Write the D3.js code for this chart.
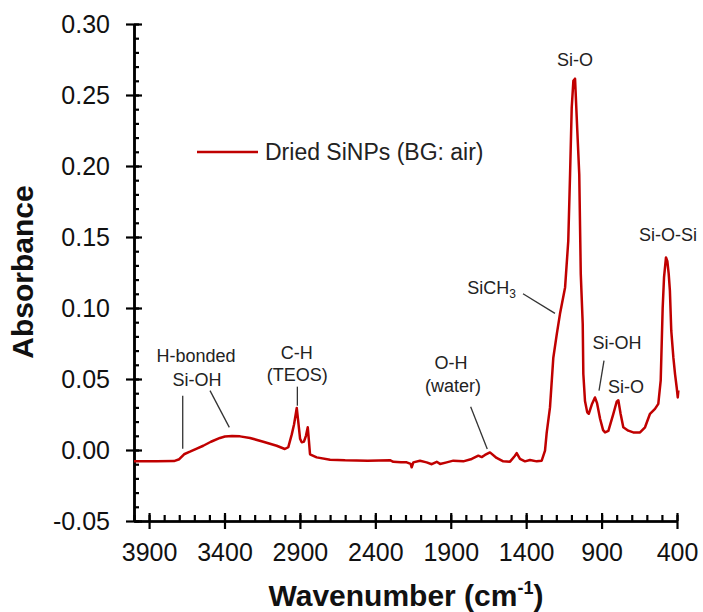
<!DOCTYPE html>
<html lang="en">
<head>
  <meta charset="UTF-8">
  <title>FTIR spectrum</title>
  <script src="https://cdnjs.cloudflare.com/ajax/libs/d3/7.8.5/d3.min.js"></script>
  <style>
    body { margin: 0; background: #fff; }
    svg text { font-family: Arial, "Liberation Sans", sans-serif; }
  </style>
</head>
<body>
<div id="app"></div>
<script>
  // spectrum (cm-1, absorbance)
  const wavenumber = [4000, 3850, 3735, 3700, 3668, 3629, 3580, 3541, 3490, 3430, 3397, 3350, 3297, 3231,
    3143, 3054, 3000, 2977, 2954, 2939, 2921, 2911, 2899, 2888, 2873, 2860, 2848, 2840, 2833, 2789,
    2700, 2600, 2450, 2303, 2281, 2230, 2192, 2166, 2159, 2148, 2104, 2060, 2026, 1993, 1971, 1927,
    1883, 1817, 1761, 1717, 1695, 1673, 1640, 1596, 1552, 1507, 1474, 1463, 1441, 1408, 1375, 1330,
    1297, 1275, 1264, 1242, 1220, 1197, 1176, 1142, 1121, 1109, 1098, 1087, 1076, 1061, 1048, 1038,
    1025, 1021, 1010, 995, 985, 965, 944, 930, 910, 890, 877, 855, 822, 800, 789, 774, 756, 723,
    690, 645, 612, 579, 546, 524, 508, 495, 486, 473, 464, 455, 447, 438, 424, 413, 402, 395, 391];
  const absorbance = [-0.008, -0.008, -0.0078, -0.0065, -0.003, -0.0012, 0.0012, 0.003, 0.0058, 0.0085, 0.0095, 0.0098, 0.0096, 0.0085,
    0.0058, 0.003, 0.0007, 0.002, 0.011, 0.018, 0.0296, 0.02, 0.008, 0.0054, 0.006, 0.010, 0.016, 0.006, -0.003, -0.0052,
    -0.0068, -0.0073, -0.0075, -0.0072, -0.0083, -0.0087, -0.0087, -0.0098, -0.0122, -0.0087, -0.0076, -0.0087, -0.010, -0.0083, -0.0098, -0.0087,
    -0.0075, -0.008, -0.0063, -0.004, -0.005, -0.0035, -0.0017, -0.0056, -0.008, -0.0082, -0.004, -0.0022, -0.0063, -0.008, -0.007, -0.008,
    -0.0075, -0.0005, 0.012, 0.030, 0.065, 0.0816, 0.0957, 0.1145, 0.147, 0.194, 0.241, 0.260, 0.2615, 0.225, 0.194, 0.124,
    0.0887, 0.0535, 0.0345, 0.0265, 0.0255, 0.032, 0.037, 0.033, 0.022, 0.014, 0.0124, 0.0135, 0.0255, 0.034, 0.035, 0.0255, 0.016, 0.0136,
    0.0124, 0.0124, 0.016, 0.0255, 0.029, 0.0325, 0.049, 0.100, 0.1215, 0.1356, 0.133, 0.124, 0.112, 0.084, 0.065, 0.0535, 0.044, 0.037, 0.042];

  const xMajor = [3900, 3400, 2900, 2400, 1900, 1400, 900, 400];
  const xMinor = d3.range(4000, 399, -100);
  const yMajor = [-0.05, 0, 0.05, 0.10, 0.15, 0.20, 0.25, 0.30];
  const yMinor = d3.range(-0.05, 0.3001, 0.01);
  const seriesName = 'Dried SiNPs (BG: air)';

  // peak labels: text lines, anchor point in data units
  const labels = [
    { text: 'H-bonded', w: 3589, a: 0.0617 },
    { text: 'Si-OH', w: 3582, a: 0.0453 },
    { text: 'C-H', w: 2921, a: 0.0643 },
    { text: '(TEOS)', w: 2918, a: 0.0488 },
    { text: 'O-H', w: 1898, a: 0.0573 },
    { text: '(water)', w: 1885, a: 0.0406 },
    { text: 'Si-O', w: 1076, a: 0.2706 },
    { text: 'Si-O-Si', w: 460, a: 0.1474 },
    { text: 'Si-OH', w: 798, a: 0.0713 },
    { text: 'Si-O', w: 738, a: 0.0399 }
  ];
  const leaders = [
    [3677, 0.0382, 3677, 0.0009],
    [3496, 0.0418, 3368, 0.0159],
    [2917, 0.0446, 2917, 0.0312],
    [1768, 0.0305, 1658, 0.0007],
    [884, 0.0629, 917, 0.0418],
    [1421, 0.110, 1209, 0.0962]
  ];

  const W = 703, H = 612;
  const margin = { left: 134, top: 24, right: 26, bottom: 91 };
  const red = '#c00000';

  const svg = d3.select('#app').append('svg')
    .attr('width', W)
    .attr('height', H);

  const x = d3.scaleLinear().domain([4000, 400]).range([margin.left, W - margin.right]);
  const y = d3.scaleLinear().domain([-0.05, 0.30]).range([H - margin.bottom, margin.top]);
  const x0 = H - margin.bottom;

  // x axis
  svg.append('g')
    .attr('transform', `translate(0, ${x0})`)
    .call(d3.axisBottom(x).tickValues(xMajor).tickSize(8).tickSizeOuter(0).tickPadding(14).tickFormat(d => String(d)))
    .call(g => g.selectAll('text').attr('font-size', 25).attr('fill', '#111'));
  svg.append('g')
    .attr('transform', `translate(0, ${x0})`)
    .call(d3.axisTop(x).tickValues(xMinor).tickSize(6).tickSizeOuter(0).tickFormat(''));
  svg.append('g')
    .attr('transform', `translate(0, ${x0})`)
    .call(d3.axisTop(x).tickValues(xMajor).tickSize(8).tickSizeOuter(0).tickFormat(''));

  // y axis
  svg.append('g')
    .attr('transform', `translate(${margin.left}, 0)`)
    .call(d3.axisLeft(y).tickValues(yMajor).tickSize(8).tickSizeOuter(0).tickPadding(16).tickFormat(d => d.toFixed(2)))
    .call(g => g.selectAll('text').attr('font-size', 25).attr('fill', '#111'));
  svg.append('g')
    .attr('transform', `translate(${margin.left}, 0)`)
    .call(d3.axisRight(y).tickValues(yMinor).tickSize(5).tickSizeOuter(0).tickFormat(''));
  svg.append('g')
    .attr('transform', `translate(${margin.left}, 0)`)
    .call(d3.axisRight(y).tickValues(yMajor).tickSize(8).tickSizeOuter(0).tickFormat(''));

  svg.selectAll('.domain, .tick line').attr('stroke', '#000').attr('stroke-width', 2.2);

  // spectrum
  const pts = wavenumber.map((w, i) => [w, absorbance[i]]);
  svg.append('path')
    .datum(pts)
    .attr('fill', 'none')
    .attr('stroke', red)
    .attr('stroke-width', 2.5)
    .attr('stroke-linejoin', 'round')
    .attr('d', d3.line().x(d => x(d[0])).y(d => y(d[1])));

  // leader lines and labels
  svg.selectAll('line.leader')
    .data(leaders)
    .enter()
    .append('line')
    .attr('class', 'leader')
    .attr('x1', d => x(d[0])).attr('y1', d => y(d[1]))
    .attr('x2', d => x(d[2])).attr('y2', d => y(d[3]))
    .attr('stroke', '#333')
    .attr('stroke-width', 1.3);

  svg.selectAll('text.peak')
    .data(labels)
    .enter()
    .append('text')
    .attr('class', 'peak')
    .attr('x', d => x(d.w))
    .attr('y', d => y(d.a))
    .attr('text-anchor', 'middle')
    .attr('font-size', 18)
    .attr('fill', '#222')
    .text(d => d.text);

  const sich = svg.append('text')
    .attr('x', x(1467))
    .attr('y', y(0.110))
    .attr('text-anchor', 'end')
    .attr('font-size', 18)
    .attr('fill', '#222');
  sich.append('tspan').text('SiCH');
  sich.append('tspan').attr('font-size', 12).attr('dy', 4).text('3');

  // legend
  svg.append('line')
    .attr('x1', 197).attr('x2', 258)
    .attr('y1', 152).attr('y2', 152)
    .attr('stroke', red)
    .attr('stroke-width', 2.5);
  svg.append('text')
    .attr('x', 265).attr('y', 160)
    .attr('font-size', 23)
    .attr('fill', '#222')
    .text(seriesName);

  // axis titles
  svg.append('text')
    .attr('transform', 'translate(33, 272) rotate(-90)')
    .attr('text-anchor', 'middle')
    .attr('font-size', 30)
    .attr('font-weight', 'bold')
    .attr('fill', '#111')
    .text('Absorbance');

  const xt = svg.append('text')
    .attr('x', 406).attr('y', 606)
    .attr('text-anchor', 'middle')
    .attr('font-size', 30)
    .attr('font-weight', 'bold')
    .attr('fill', '#111');
  xt.append('tspan').text('Wavenumber (cm');
  xt.append('tspan').attr('font-size', 18).attr('dy', -12).text('-1');
  xt.append('tspan').attr('dy', 12).text(')');
</script>
</body>
</html>
